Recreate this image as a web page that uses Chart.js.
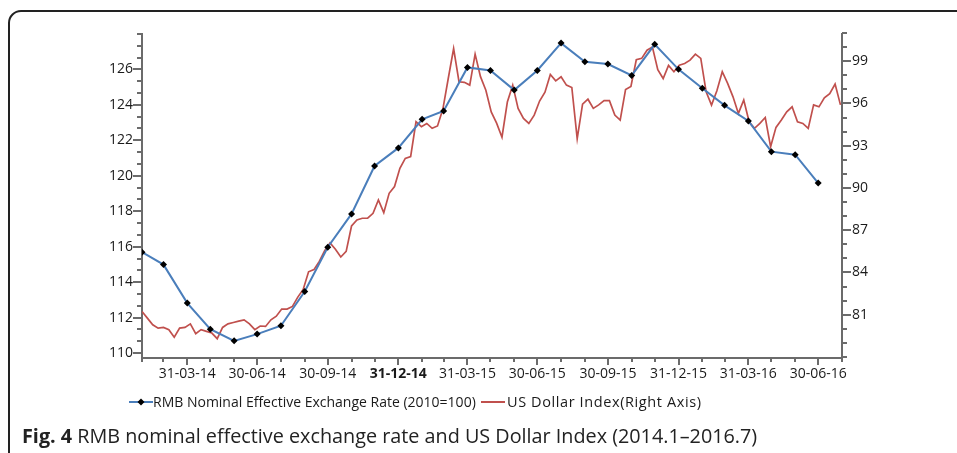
<!DOCTYPE html>
<html>
<head>
<meta charset="utf-8">
<script src="https://cdn.jsdelivr.net/npm/chart.js@4.4.0/dist/chart.umd.min.js"></script>
<style>
  html, body { margin: 0; padding: 0; width: 957px; height: 453px; overflow: hidden; background: #fff; }
  body { font-family: "Open Sans", sans-serif; color: #1a1a1a; }
  #frame { position: absolute; left: 8px; top: 10px; width: 1000px; height: 600px;
           border: 2px solid #222; border-top-left-radius: 13px; }
  #chart { position: absolute; left: 0; top: 0; }
  .leg { position: absolute; top: 392px; font-size: 14px; white-space: nowrap; line-height: 20px; }
  .leg svg { position: absolute; top: 5px; left: 0; }
  #caption { position: absolute; left: 22px; top: 423px; font-size: 19.8px; white-space: nowrap; line-height: 26px; color: #222; }
</style>
</head>
<body>
<div id="frame"></div>
<canvas id="chart" width="957" height="453"></canvas>
<div class="leg" style="left:129px; padding-left:24px">
  <svg width="24" height="10"><line x1="0" y1="5" x2="24" y2="5" stroke="#4A7EBB" stroke-width="2"/><path d="M12 1.5 L15.5 5 L12 8.5 L8.5 5 Z" fill="#000"/></svg>RMB Nominal Effective Exchange Rate (2010=100)
</div>
<div class="leg" style="left:481px; padding-left:26px; font-size:14.5px; letter-spacing:0.6px">
  <svg width="24" height="10"><line x1="0" y1="5" x2="24" y2="5" stroke="#C0504D" stroke-width="2"/></svg>US Dollar Index(Right Axis)
</div>
<div id="caption"><b>Fig. 4</b> RMB nominal effective exchange rate and US Dollar Index (2014.1–2016.7)</div>
<script>
// RMB nominal effective exchange rate, month end
const rmbDates = ['2014-01-31','2014-02-28','2014-03-31','2014-04-30','2014-05-31','2014-06-30',
  '2014-07-31','2014-08-31','2014-09-30','2014-10-31','2014-11-30','2014-12-31',
  '2015-01-31','2015-02-28','2015-03-31','2015-04-30','2015-05-31','2015-06-30',
  '2015-07-31','2015-08-31','2015-09-30','2015-10-31','2015-11-30','2015-12-31',
  '2016-01-31','2016-02-29','2016-03-31','2016-04-30','2016-05-31','2016-06-30'];
const rmbValues = [115.69, 114.99, 112.82, 111.35, 110.69, 111.07, 111.54, 113.47, 115.97, 117.85,
  120.55, 121.57, 123.18, 123.65, 126.11, 125.94, 124.83, 125.94, 127.48, 126.43,
  126.30, 125.66, 127.41, 126.00, 124.93, 123.97, 123.09, 121.36, 121.19, 119.59];

// US dollar index, weekly from 31 Jan 2014
const usdStart = '2014-01-31';
const usdStepDays = 7;
const usdValues = [81.23, 80.76, 80.29, 80.05, 80.1, 79.94, 79.4, 80.05, 80.1, 80.35,
  79.65, 79.94, 79.82, 79.7, 79.3, 80.1, 80.35, 80.45, 80.55, 80.64,
  80.35, 79.94, 80.2, 80.17, 80.64, 80.9, 81.4, 81.4, 81.59, 82.25,
  82.8, 84.05, 84.2, 84.78, 85.55, 86.1, 85.65, 85.1, 85.5, 87.3,
  87.73, 87.85, 87.85, 88.2, 89.15, 88.25, 89.62, 90.1, 91.4, 92.1,
  92.22, 94.7, 94.35, 94.58, 94.23, 94.4, 95.6, 97.77, 99.9, 97.54,
  97.5, 97.3, 99.5, 97.9, 96.94, 95.4, 94.6, 93.6, 96.1, 97.3,
  95.65, 94.94, 94.58, 95.17, 96.17, 96.8, 98.05, 97.6, 97.89, 97.3,
  97.13, 93.5, 95.95, 96.3, 95.65, 95.9, 96.2, 96.2, 95.17, 94.82,
  96.98, 97.2, 99.1, 99.2, 99.78, 100.0, 98.4, 97.77, 98.7, 98.25,
  98.72, 98.83, 99.07, 99.5, 99.2, 96.82, 95.88, 96.9, 98.25, 97.42,
  96.47, 95.29, 96.24, 94.7, 94.23, 94.58, 95.0, 92.93, 94.3, 94.82,
  95.4, 95.76, 94.7, 94.58, 94.23, 95.9, 95.76, 96.4, 96.7, 97.38, 95.9];

// axis ticks
const xTickDates = rmbDates.concat(['2016-07-31']);
const leftTicks = [110, 112, 114, 116, 118, 120, 122, 124, 126];
const rightTicks = [81, 84, 87, 90, 93, 96, 99];

const DAY = 86400000;
const toDay = s => Date.parse(s + 'T00:00:00Z') / DAY;
const label = s => { const p = s.split('-'); return p[2] + '-' + p[1] + '-' + p[0].slice(2); };
const isQuarter = s => ['03', '06', '09', '12'].includes(s.split('-')[1]);
const quarterDates = xTickDates.filter(isQuarter);
const labelByDay = {};
quarterDates.forEach(s => { labelByDay[toDay(s)] = label(s); });

const rmbData = rmbDates.map((d, i) => ({ x: toDay(d), y: rmbValues[i] }));
const usdData = usdValues.map((v, i) => ({ x: toDay(usdStart) + i * usdStepDays, y: v }));

const FONT = '"Open Sans", sans-serif';
const AXIS = '#6b6b6b';

// axis lines plus major and minor tick marks
const axisPlugin = {
  id: 'axes',
  beforeDatasetsDraw(chart) {
    const ctx = chart.ctx, a = chart.chartArea;
    const x = chart.scales.x, y = chart.scales.y, y1 = chart.scales.y1;
    ctx.save();
    ctx.strokeStyle = AXIS;
    ctx.lineWidth = 2;
    ctx.beginPath();
    ctx.moveTo(a.left, a.top); ctx.lineTo(a.left, a.bottom + 1); ctx.lineTo(a.right, a.bottom + 1); ctx.lineTo(a.right, a.top);
    ctx.stroke();
    ctx.beginPath();
    xTickDates.forEach(s => {
      const px = Math.round(x.getPixelForValue(toDay(s)));
      ctx.moveTo(px, a.bottom); ctx.lineTo(px, a.bottom + (isQuarter(s) ? 8 : 5));
    });
    for (let v = 110 - 2 / 3; v <= y.max + 0.01; v += 2 / 3) {
      if (v < y.min) continue;
      const py = Math.round(y.getPixelForValue(v));
      const major = leftTicks.some(t => Math.abs(t - v) < 0.01);
      ctx.moveTo(a.left, py); ctx.lineTo(a.left - (major ? 9 : 5), py);
    }
    for (let v = y1.min; v <= y1.max + 0.01; v += 1) {
      const py = Math.round(y1.getPixelForValue(v));
      const major = rightTicks.includes(v);
      ctx.moveTo(a.right, py); ctx.lineTo(a.right + (major ? 9 : 5), py);
    }
    ctx.stroke();
    ctx.restore();
  }
};

new Chart(document.getElementById('chart'), {
  type: 'line',
  data: {
    datasets: [
      {
        label: 'RMB Nominal Effective Exchange Rate (2010=100)',
        data: rmbData,
        yAxisID: 'y',
        borderColor: '#4A7EBB',
        borderWidth: 2,
        pointStyle: 'rectRot',
        pointRadius: 3.5,
        pointBackgroundColor: '#000',
        pointBorderColor: '#000',
        pointBorderWidth: 0,
        tension: 0
      },
      {
        label: 'US Dollar Index(Right Axis)',
        data: usdData,
        yAxisID: 'y1',
        borderColor: '#C0504D',
        borderWidth: 1.7,
        pointRadius: 0,
        tension: 0
      }
    ]
  },
  options: {
    responsive: false,
    animation: false,
    layout: { padding: { top: 33, left: 0, right: 0, bottom: 0 } },
    plugins: { legend: { display: false }, tooltip: { enabled: false } },
    scales: {
      x: {
        type: 'linear',
        min: toDay(xTickDates[0]),
        max: toDay(xTickDates[xTickDates.length - 1]),
        grid: { display: false, drawTicks: false },
        border: { display: false },
        afterBuildTicks: s => { s.ticks = quarterDates.map(d => ({ value: toDay(d) })); },
        afterFit: s => { s.height = 96; },
        ticks: {
          autoSkip: false, maxRotation: 0, padding: 9, color: '#1a1a1a',
          font: c => ({ family: FONT, size: 14, weight: c.tick && c.tick.label === '31-12-14' ? 'bold' : 'normal' }),
          callback: v => labelByDay[v] || ''
        }
      },
      y: {
        position: 'left',
        min: 109.78, max: 128.05,
        grid: { display: false, drawTicks: false },
        border: { display: false },
        afterBuildTicks: s => { s.ticks = leftTicks.map(v => ({ value: v })); },
        afterFit: s => { s.width = 142; },
        ticks: { padding: 9, color: '#1a1a1a', font: { family: FONT, size: 14 } }
      },
      y1: {
        position: 'right',
        min: 78, max: 101,
        grid: { display: false, drawTicks: false },
        border: { display: false },
        afterBuildTicks: s => { s.ticks = rightTicks.map(v => ({ value: v })); },
        afterFit: s => { s.width = 115; },
        ticks: { padding: 10, color: '#1a1a1a', font: { family: FONT, size: 14 } }
      }
    }
  },
  plugins: [axisPlugin]
});
</script>
</body>
</html>
